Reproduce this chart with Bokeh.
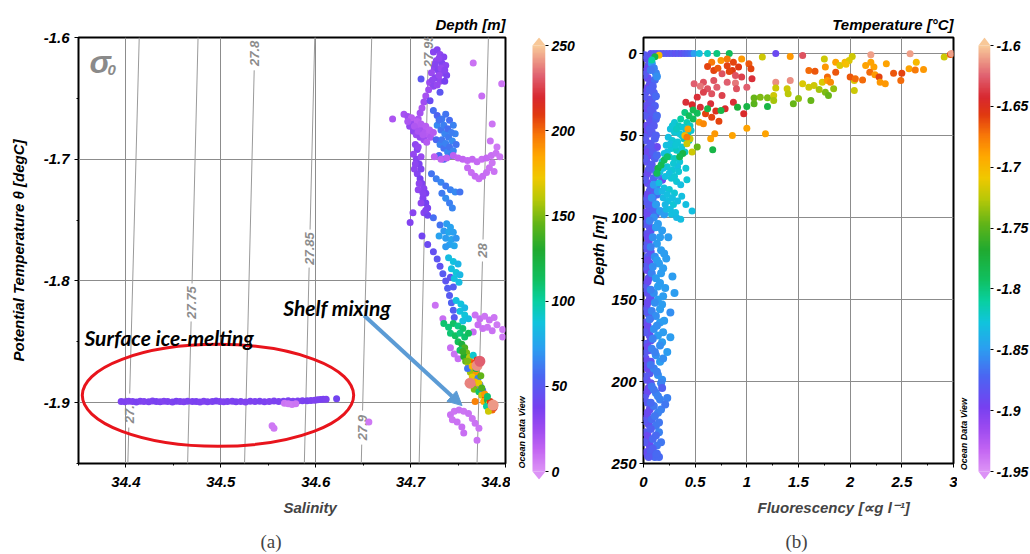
import numpy as np
from bokeh.plotting import figure
from bokeh.layouts import row
from bokeh.models import (Range1d, FixedTicker, LinearColorMapper, Label, Title,
                          Arrow, NormalHead, ColumnDataSource, CustomJSTickFormatter)
from bokeh.transform import transform
from bokeh.core.properties import value
from bokeh.embed import file_html
from bokeh.resources import INLINE

# ======================= DATA =======================
# ---- panel (a): (salinity, potential temperature, depth) ----
surface_pts = [
    (34.395, -1.8990, 36), (34.399, -1.8992, 36), (34.403, -1.8988, 35), (34.407, -1.8991, 36),
    (34.411, -1.8994, 37), (34.415, -1.8989, 36), (34.419, -1.8990, 35), (34.424, -1.8993, 36),
    (34.428, -1.8987, 36), (34.432, -1.8990, 37), (34.436, -1.8992, 36), (34.440, -1.8988, 35),
    (34.444, -1.8991, 36), (34.449, -1.8995, 36), (34.453, -1.8989, 37), (34.457, -1.8990, 36),
    (34.461, -1.8993, 35), (34.465, -1.8988, 36), (34.470, -1.8991, 36), (34.474, -1.8990, 37),
    (34.478, -1.8994, 36), (34.482, -1.8989, 35), (34.486, -1.8992, 36), (34.491, -1.8990, 36),
    (34.495, -1.8987, 37), (34.499, -1.8991, 36), (34.503, -1.8993, 35), (34.507, -1.8990, 36),
    (34.512, -1.8988, 36), (34.516, -1.8992, 37), (34.521, -1.8990, 36), (34.526, -1.8994, 35),
    (34.531, -1.8989, 36), (34.536, -1.8991, 36), (34.541, -1.8988, 37), (34.546, -1.8992, 36),
    (34.551, -1.8990, 35), (34.556, -1.8987, 36), (34.561, -1.8991, 36), (34.566, -1.8989, 37),
    (34.571, -1.8985, 36), (34.576, -1.8988, 35), (34.581, -1.8986, 36), (34.586, -1.8984, 36),
    (34.591, -1.8985, 37), (34.595, -1.8982, 36), (34.599, -1.8980, 35), (34.602, -1.8977, 36),
    (34.605, -1.8975, 36), (34.608, -1.8973, 37), (34.611, -1.8972, 36), (34.622, -1.8968, 40),
]
surface_violet_pts = [
    (34.567, -1.9005, 8), (34.571, -1.9010, 7), (34.575, -1.9015, 7), (34.579, -1.9010, 8),
    (34.554, -1.9190, 7), (34.556, -1.9210, 7), (34.656, -1.9160, 7),
]
shelf_upper_pts = [
    (34.724, -1.612, 32), (34.728, -1.610, 34), (34.731, -1.614, 30), (34.735, -1.616, 33),
    (34.727, -1.619, 29), (34.733, -1.621, 35), (34.737, -1.623, 31), (34.725, -1.625, 30),
    (34.729, -1.627, 34), (34.734, -1.629, 31), (34.738, -1.631, 36), (34.722, -1.629, 26),
    (34.726, -1.633, 32), (34.731, -1.636, 29), (34.736, -1.636, 38), (34.720, -1.637, 25),
    (34.724, -1.640, 31), (34.719, -1.643, 24), (34.716, -1.648, 22), (34.714, -1.653, 24),
    (34.712, -1.658, 20), (34.710, -1.662, 22), (34.708, -1.667, 20),
    (34.730, -1.617, 30), (34.726, -1.622, 33), (34.732, -1.625, 28), (34.736, -1.627, 32),
    (34.730, -1.631, 27), (34.723, -1.635, 30), (34.728, -1.639, 28),
    (34.711, -1.634, 48), (34.766, -1.621, 9), (34.796, -1.638, 8), (34.775, -1.648, 10),
    (34.731, -1.645, 48), (34.7205, -1.652, 42), (34.681, -1.667, 20),
    (34.693, -1.663, 22), (34.697, -1.665, 24), (34.700, -1.668, 18), (34.703, -1.670, 26),
    (34.706, -1.672, 21), (34.709, -1.674, 17), (34.712, -1.676, 22), (34.715, -1.678, 18),
    (34.718, -1.680, 16), (34.721, -1.682, 19), (34.699, -1.673, 28), (34.703, -1.677, 30),
    (34.706, -1.680, 26), (34.710, -1.682, 28), (34.714, -1.684, 24), (34.717, -1.686, 17),
    (34.701, -1.666, 16), (34.707, -1.669, 15), (34.711, -1.671, 17), (34.716, -1.673, 16),
    (34.720, -1.676, 15), (34.724, -1.678, 17), (34.697, -1.669, 20), (34.704, -1.673, 19),
    (34.708, -1.677, 21), (34.713, -1.680, 18),
]
shelf_blue_pts = [
    (34.724, -1.660, 58), (34.728, -1.664, 55), (34.733, -1.667, 62), (34.737, -1.663, 60),
    (34.741, -1.668, 58), (34.745, -1.672, 64), (34.728, -1.672, 66), (34.732, -1.676, 60),
    (34.736, -1.679, 65), (34.740, -1.682, 62), (34.744, -1.685, 67), (34.748, -1.688, 60),
    (34.727, -1.684, 56), (34.731, -1.688, 64), (34.735, -1.691, 59), (34.739, -1.694, 66),
    (34.743, -1.697, 62), (34.747, -1.679, 65), (34.730, -1.697, 57), (34.735, -1.700, 55),
    (34.730, -1.668, 60), (34.735, -1.672, 63), (34.739, -1.675, 58), (34.743, -1.678, 63),
    (34.733, -1.684, 61), (34.737, -1.687, 64), (34.741, -1.690, 60), (34.745, -1.693, 65),
    (34.705, -1.688, 30), (34.707, -1.692, 34), (34.703, -1.696, 28), (34.706, -1.700, 32),
    (34.709, -1.704, 36), (34.704, -1.708, 30), (34.707, -1.712, 33), (34.710, -1.716, 38),
    (34.712, -1.720, 35), (34.714, -1.724, 32), (34.716, -1.728, 37), (34.713, -1.732, 34),
    (34.716, -1.736, 39), (34.718, -1.740, 36), (34.714, -1.744, 32), (34.718, -1.746, 40),
    (34.711, -1.698, 27), (34.708, -1.725, 29), (34.7025, -1.744, 32), (34.6995, -1.752, 34),
    (34.708, -1.690, 28), (34.705, -1.704, 31), (34.711, -1.708, 35), (34.709, -1.720, 30),
    (34.713, -1.728, 33), (34.716, -1.742, 35), (34.711, -1.736, 30),
]
shelf_violet_pts = [
    (34.725, -1.698, 14), (34.732, -1.700, 13), (34.738, -1.699, 14), (34.745, -1.697, 14),
    (34.750, -1.699, 13), (34.755, -1.700, 13), (34.760, -1.701, 12), (34.765, -1.700, 12),
    (34.770, -1.702, 11), (34.775, -1.700, 10), (34.780, -1.699, 11), (34.785, -1.697, 10),
    (34.790, -1.695, 9), (34.794, -1.698, 8), (34.760, -1.707, 11), (34.764, -1.711, 10),
    (34.768, -1.714, 11), (34.772, -1.716, 10), (34.776, -1.714, 11), (34.780, -1.711, 10),
    (34.783, -1.707, 9), (34.786, -1.703, 8), (34.788, -1.710, 9), (34.786, -1.671, 8),
    (34.784, -1.685, 8), (34.791, -1.690, 7),
    (34.726, -1.820, 9), (34.734, -1.831, 10), (34.768, -1.828, 9), (34.773, -1.831, 10),
    (34.778, -1.829, 8), (34.783, -1.832, 9), (34.788, -1.830, 8), (34.771, -1.836, 10),
    (34.776, -1.839, 9), (34.781, -1.838, 8), (34.786, -1.841, 9), (34.791, -1.836, 7),
    (34.797, -1.840, 7), (34.766, -1.842, 10), (34.797, -1.846, 7),
    (34.742, -1.855, 10), (34.746, -1.860, 9), (34.750, -1.864, 10),
    (34.742, -1.910, 9), (34.746, -1.907, 8), (34.751, -1.906, 9), (34.756, -1.907, 8),
    (34.761, -1.909, 9), (34.765, -1.913, 8), (34.768, -1.917, 9), (34.744, -1.914, 8),
    (34.749, -1.916, 9), (34.754, -1.920, 10), (34.772, -1.921, 8), (34.756, -1.925, 10),
    (34.770, -1.931, 9),
]
shelf_mid_pts = [
    (34.722, -1.712, 60), (34.727, -1.716, 63), (34.732, -1.719, 65), (34.737, -1.722, 61),
    (34.742, -1.725, 64), (34.747, -1.727, 66), (34.733, -1.728, 62), (34.737, -1.732, 67),
    (34.741, -1.736, 63), (34.744, -1.740, 65), (34.752, -1.727, 60), (34.724, -1.748, 58),
    (34.731, -1.754, 60),
    (34.738, -1.753, 72), (34.742, -1.756, 74), (34.735, -1.759, 71), (34.740, -1.760, 76),
    (34.745, -1.760, 73), (34.730, -1.763, 74), (34.737, -1.765, 72), (34.743, -1.766, 75),
    (34.748, -1.765, 70), (34.741, -1.770, 74), (34.737, -1.772, 71), (34.746, -1.771, 76),
    (34.712, -1.763, 40), (34.718, -1.770, 42), (34.724, -1.776, 45), (34.728, -1.782, 48),
    (34.731, -1.788, 46), (34.734, -1.794, 50), (34.737, -1.800, 48), (34.739, -1.806, 52),
    (34.741, -1.812, 50), (34.743, -1.818, 54), (34.745, -1.824, 52), (34.746, -1.830, 50),
    (34.742, -1.797, 47), (34.745, -1.805, 51),
    (34.740, -1.781, 84), (34.745, -1.784, 86), (34.750, -1.786, 82), (34.743, -1.790, 85),
    (34.748, -1.793, 88), (34.752, -1.795, 83), (34.746, -1.798, 86), (34.751, -1.801, 84),
    (34.748, -1.816, 85), (34.753, -1.819, 87), (34.757, -1.822, 83), (34.752, -1.825, 86),
    (34.757, -1.828, 88), (34.761, -1.831, 84), (34.755, -1.833, 85),
    (34.735, -1.835, 110), (34.740, -1.838, 108), (34.745, -1.835, 112), (34.750, -1.837, 106),
    (34.755, -1.839, 111), (34.742, -1.843, 109), (34.747, -1.845, 113), (34.752, -1.843, 107),
    (34.757, -1.846, 110), (34.761, -1.843, 114),
]
shelf_deep_pts = [
    (34.750, -1.850, 115), (34.754, -1.852, 125), (34.757, -1.855, 140), (34.752, -1.857, 112),
    (34.759, -1.859, 150), (34.756, -1.862, 130), (34.762, -1.863, 160), (34.758, -1.866, 145),
    (34.764, -1.867, 200), (34.761, -1.870, 165), (34.767, -1.868, 205), (34.766, -1.873, 235),
    (34.763, -1.875, 155), (34.769, -1.876, 190), (34.765, -1.879, 170), (34.771, -1.880, 62),
    (34.768, -1.883, 180), (34.764, -1.884, 195), (34.770, -1.887, 235), (34.773, -1.885, 60),
    (34.767, -1.889, 150), (34.772, -1.891, 110), (34.776, -1.890, 58), (34.775, -1.894, 165),
    (34.779, -1.896, 205), (34.777, -1.899, 185), (34.781, -1.898, 120), (34.783, -1.901, 175),
    (34.780, -1.903, 100), (34.785, -1.903, 235), (34.786, -1.906, 200), (34.782, -1.907, 165),
    (34.788, -1.904, 215), (34.774, -1.878, 145), (34.760, -1.872, 60), (34.766, -1.861, 90),
    (34.770, -1.865, 210), (34.768, -1.899, 195),
    (34.755, -1.858, 135), (34.760, -1.866, 150), (34.765, -1.870, 180), (34.772, -1.884, 170),
    (34.778, -1.893, 190), (34.784, -1.899, 210), (34.787, -1.902, 225), (34.769, -1.872, 120),
    (34.775, -1.888, 140), (34.781, -1.895, 110),
]
shelf_big_pts = [
    (34.770, -1.8695, 240), (34.7626, -1.884, 238), (34.787, -1.902, 242), (34.773, -1.866, 232),
]

# isopycnals sigma-0: label, salinity at theta=-1.95 and at theta=-1.6
sigma_labels = ["27.7", "27.75", "27.8", "27.85", "27.9", "27.95", "28"]
sigma_sal_bottom = [34.402, 34.465, 34.525, 34.588, 34.648, 34.709, 34.770]
sigma_sal_top = [34.414, 34.476, 34.536, 34.599, 34.659, 34.719, 34.782]
sigma_label_theta = [-1.9065, -1.8177, -1.6130, -1.7734, -1.9205, -1.6110, -1.7750]

# ---- panel (b): (fluorescence, depth, temperature) ----
fl_surface_pts = [
    (0.07, 0, -1.885), (0.10, 0, -1.88), (0.13, 0, -1.885), (0.16, 0, -1.88), (0.19, 0, -1.885),
    (0.22, 0, -1.88), (0.25, 0, -1.885), (0.28, 0, -1.88), (0.31, 0, -1.885), (0.34, 0, -1.88),
    (0.37, 0, -1.885), (0.40, 0, -1.88), (0.43, 0, -1.875), (0.46, 0, -1.87), (0.49, 0, -1.85),
    (0.54, 0, -1.83), (0.62, 0, -1.82), (0.71, 0, -1.80), (0.83, 0, -1.79), (1.28, 0, -1.89),
    (0.15, 1, -1.70), (0.11, 2, -1.78), (0.08, 4, -1.81),
    (1.15, 2.2, -1.72), (1.42, 1.8, -1.685), (1.54, 1.2, -1.63), (1.75, 3.3, -1.72),
    (2.02, 1.8, -1.72), (2.20, 0.8, -1.61), (2.58, 0.2, -1.61), (2.91, 2.2, -1.72),
    (2.97, 0.6, -1.665), (2.98, 0, -1.61),
]
fl_warm_pts = [
    (0.66, 5.3, -1.675), (0.62, 7.9, -1.66), (0.68, 10.4, -1.66), (0.75, 4.3, -1.685),
    (0.81, 3.3, -1.675), (0.87, 5.3, -1.66), (0.92, 8.3, -1.655), (0.86, 10.4, -1.655),
    (0.81, 7.5, -1.66), (1.02, 6.3, -1.665), (1.04, 9.3, -1.66), (0.95, 3.3, -1.685),
    (0.76, 12.4, -1.63), (0.89, 13.4, -1.63), (0.95, 14.4, -1.635), (1.05, 15.4, -1.64),
    (0.72, 9.0, -1.665), (0.83, 11.0, -1.66),
    (0.49, 18.5, -1.625), (0.58, 17.5, -1.63), (0.68, 16.5, -1.63), (0.81, 17.5, -1.625),
    (0.89, 18.0, -1.62), (0.62, 21.5, -1.63), (0.71, 20.5, -1.625), (0.58, 23.6, -1.635),
    (0.52, 26.6, -1.64), (0.76, 25.6, -1.635), (1.00, 20.5, -1.625), (0.66, 24.5, -1.63),
    (0.90, 21.5, -1.63), (1.28, 17.5, -1.615), (1.42, 16.5, -1.615), (0.55, 20.0, -1.62),
    (0.41, 29.7, -1.64), (0.47, 31.2, -1.645), (0.55, 32.7, -1.64), (0.65, 30.7, -1.64),
    (0.79, 33.7, -1.645), (0.87, 29.7, -1.64), (0.97, 36.8, -1.645), (0.66, 38.8, -1.66),
    (0.60, 36.8, -1.66), (0.73, 41.3, -1.66), (0.54, 41.9, -1.685), (0.58, 42.9, -1.68),
    (0.70, 35.0, -1.65),
    (0.62, 33.7, -1.78), (0.75, 34.8, -1.78), (0.91, 32.7, -1.775), (1.00, 32.3, -1.78),
    (1.20, 32.3, -1.78), (1.07, 30.7, -1.75), (0.52, 36.5, -1.79), (0.48, 34.5, -1.785),
    (1.07, 27.2, -1.745), (1.13, 26.6, -1.74), (1.20, 27.0, -1.74), (1.26, 25.6, -1.72),
    (1.26, 28.7, -1.73), (1.39, 21.5, -1.72), (1.40, 24.6, -1.725), (1.45, 30.7, -1.745),
    (1.50, 27.5, -1.735), (1.62, 28.7, -1.745), (1.54, 18.5, -1.715), (1.60, 20.5, -1.72),
    (1.65, 19.5, -1.72), (1.73, 17.5, -1.715), (1.76, 23.6, -1.74), (1.79, 25.6, -1.745),
    (2.04, 22.6, -1.72), (2.04, 16.5, -1.715), (1.28, 21.0, -1.72), (1.70, 22.0, -1.73),
    (1.84, 21.5, -1.735),
    (1.60, 10.4, -1.67), (1.66, 10.8, -1.665), (1.76, 8.3, -1.685), (1.78, 14.4, -1.67),
    (1.86, 11.4, -1.665), (1.78, 16.5, -1.685), (1.81, 17.5, -1.68), (1.86, 5.3, -1.69),
    (1.90, 7.3, -1.715), (1.95, 5.3, -1.70), (1.99, 4.3, -1.715), (2.00, 14.4, -1.665),
    (2.05, 15.4, -1.67), (2.12, 16.1, -1.67), (2.15, 7.3, -1.69), (2.23, 8.3, -1.69),
    (2.19, 11.4, -1.67), (2.24, 13.0, -1.685), (2.28, 14.4, -1.66), (2.29, 17.5, -1.685),
    (2.35, 6.3, -1.69), (2.34, 18.5, -1.685), (2.42, 12.0, -1.665), (2.49, 16.5, -1.67),
    (2.50, 12.0, -1.66), (2.57, 9.3, -1.69), (2.63, 10.0, -1.675), (2.64, 5.3, -1.70),
    (2.71, 9.8, -1.685), (2.20, 5.3, -1.69), (1.96, 6.5, -1.705),
    (1.00, 45.5, -1.69), (0.86, 50.0, -1.69), (1.18, 49.0, -1.69), (0.65, 52.0, -1.69),
    (0.69, 49.0, -1.685), (0.42, 51.0, -1.675),
    (0.67, 58.7, -1.78), (0.52, 57.0, -1.745), (0.47, 60.0, -1.72), (0.42, 55.0, -1.72),
    (0.38, 61.0, -1.78), (0.35, 63.0, -1.785),
]
fl_purple_pts = [
    (0.03, 3, -1.885), (0.05, 7, -1.88), (0.02, 11, -1.885), (0.04, 15, -1.89), (0.06, 19, -1.88),
    (0.03, 23, -1.885), (0.05, 28, -1.89), (0.02, 32, -1.885), (0.04, 36, -1.88), (0.06, 40, -1.885),
    (0.03, 44, -1.89), (0.05, 49, -1.885), (0.02, 53, -1.88), (0.04, 58, -1.885), (0.06, 62, -1.89),
    (0.03, 66, -1.885), (0.05, 71, -1.88), (0.02, 75, -1.885), (0.04, 79, -1.89), (0.06, 84, -1.885),
    (0.03, 88, -1.88), (0.05, 93, -1.885), (0.02, 97, -1.89), (0.04, 102, -1.885), (0.06, 106, -1.88),
    (0.03, 110, -1.885), (0.05, 115, -1.89), (0.02, 119, -1.885), (0.04, 124, -1.88), (0.06, 128, -1.885),
    (0.03, 132, -1.89), (0.05, 137, -1.885), (0.02, 141, -1.88), (0.04, 146, -1.885), (0.06, 150, -1.89),
    (0.03, 155, -1.885), (0.05, 159, -1.88), (0.02, 164, -1.885), (0.04, 168, -1.89), (0.06, 172, -1.885),
    (0.03, 177, -1.88), (0.05, 181, -1.885), (0.02, 186, -1.89), (0.04, 190, -1.885), (0.06, 195, -1.88),
    (0.03, 199, -1.885), (0.05, 204, -1.89), (0.02, 208, -1.885), (0.04, 213, -1.88), (0.06, 217, -1.885),
    (0.03, 222, -1.89), (0.05, 226, -1.885), (0.02, 231, -1.88), (0.04, 235, -1.885), (0.06, 239, -1.89),
    (0.03, 243, -1.885),
    (0.01, 1, -1.88), (0.07, 5, -1.885), (0.04, 9, -1.89), (0.01, 13, -1.88), (0.07, 17, -1.885),
    (0.04, 21, -1.89), (0.01, 26, -1.88), (0.07, 30, -1.885), (0.04, 34, -1.89), (0.01, 38, -1.88),
    (0.07, 42, -1.885), (0.04, 47, -1.89), (0.01, 51, -1.88), (0.07, 55, -1.885), (0.04, 60, -1.89),
    (0.01, 64, -1.88), (0.07, 68, -1.885), (0.04, 73, -1.89), (0.01, 77, -1.88), (0.07, 81, -1.885),
    (0.04, 86, -1.89), (0.01, 90, -1.88), (0.07, 95, -1.885), (0.04, 99, -1.89), (0.01, 104, -1.88),
    (0.07, 108, -1.885), (0.04, 112, -1.89), (0.01, 117, -1.88), (0.07, 121, -1.885), (0.04, 126, -1.89),
    (0.01, 130, -1.88), (0.07, 134, -1.885), (0.04, 139, -1.89), (0.01, 143, -1.88), (0.07, 148, -1.885),
    (0.04, 152, -1.89), (0.01, 157, -1.88), (0.07, 161, -1.885), (0.04, 166, -1.89), (0.01, 170, -1.88),
    (0.07, 175, -1.885), (0.04, 179, -1.89), (0.01, 183, -1.88), (0.07, 188, -1.885), (0.04, 192, -1.89),
    (0.01, 197, -1.88), (0.07, 201, -1.885), (0.04, 206, -1.89), (0.01, 210, -1.88), (0.07, 215, -1.885),
    (0.04, 219, -1.89), (0.01, 224, -1.88), (0.07, 228, -1.885), (0.04, 233, -1.89), (0.01, 237, -1.88),
    (0.07, 241, -1.885), (0.04, 245, -1.89),
]
fl_blue_pts = [
    (0.08, 6, -1.85), (0.10, 9, -1.86), (0.12, 12, -1.86), (0.11, 16, -1.87), (0.09, 20, -1.875),
    (0.10, 24, -1.875), (0.08, 28, -1.88), (0.11, 32, -1.875), (0.09, 36, -1.88), (0.12, 40, -1.875),
    (0.10, 44, -1.88), (0.08, 48, -1.88), (0.11, 52, -1.875), (0.13, 57, -1.89), (0.09, 60, -1.88),
    (0.11, 64, -1.875), (0.08, 68, -1.88), (0.12, 72, -1.87), (0.10, 76, -1.875), (0.13, 80, -1.87),
    (0.18, 77, -1.89), (0.11, 84, -1.875), (0.09, 88, -1.88), (0.12, 92, -1.87), (0.10, 96, -1.875),
    (0.07, 10, -1.865), (0.13, 14, -1.855), (0.06, 22, -1.875), (0.12, 26, -1.87), (0.07, 34, -1.88),
    (0.13, 38, -1.87), (0.06, 46, -1.88), (0.12, 50, -1.875), (0.07, 56, -1.88), (0.13, 62, -1.87),
    (0.06, 70, -1.88), (0.14, 74, -1.865), (0.07, 82, -1.88), (0.13, 86, -1.87), (0.06, 92, -1.88),
    (0.12, 98, -1.87),
]
fl_teal_pts = [
    (0.40, 36, -1.80), (0.44, 38, -1.79), (0.48, 40, -1.79), (0.36, 40, -1.81), (0.42, 42, -1.815),
    (0.30, 42, -1.825), (0.34, 44, -1.82), (0.38, 45, -1.825), (0.45, 44, -1.82), (0.26, 46, -1.83),
    (0.30, 48, -1.825), (0.35, 49, -1.825), (0.41, 48, -1.83), (0.46, 47, -1.825), (0.24, 51, -1.83),
    (0.28, 53, -1.825), (0.33, 54, -1.825), (0.39, 52, -1.82), (0.44, 53, -1.82), (0.22, 56, -1.83),
    (0.27, 58, -1.825), (0.32, 59, -1.82), (0.37, 57, -1.825), (0.20, 61, -1.83), (0.25, 63, -1.825),
    (0.30, 64, -1.82), (0.35, 66, -1.825), (0.18, 66, -1.83), (0.23, 69, -1.825), (0.28, 71, -1.825),
    (0.33, 69, -1.83), (0.41, 70, -1.825), (0.16, 72, -1.83), (0.21, 75, -1.83), (0.27, 76, -1.825),
    (0.32, 78, -1.825), (0.42, 77, -1.825), (0.15, 79, -1.83), (0.20, 82, -1.83), (0.25, 83, -1.825),
    (0.30, 85, -1.825), (0.37, 87, -1.83), (0.19, 88, -1.835), (0.24, 90, -1.83), (0.29, 92, -1.825),
    (0.41, 92, -1.83), (0.47, 96, -1.83), (0.22, 95, -1.835), (0.27, 98, -1.83), (0.36, 101, -1.83),
    (0.32, 100, -1.835),
    (0.28, 44, -1.825), (0.32, 46, -1.82), (0.37, 50, -1.825), (0.43, 50, -1.82), (0.26, 55, -1.83),
    (0.31, 56, -1.825), (0.36, 61, -1.825), (0.40, 60, -1.82), (0.23, 60, -1.83), (0.29, 67, -1.825),
    (0.34, 72, -1.825), (0.19, 70, -1.83), (0.25, 73, -1.83), (0.30, 75, -1.825), (0.36, 80, -1.83),
    (0.18, 84, -1.835), (0.23, 86, -1.83), (0.28, 88, -1.83), (0.33, 90, -1.83), (0.21, 92, -1.835),
    (0.26, 95, -1.83), (0.31, 97, -1.83),
    (0.14, 70, -1.78), (0.17, 68, -1.785), (0.20, 65, -1.79), (0.13, 73, -1.79), (0.23, 63, -1.795),
    (0.43, 46, -1.69), (0.45, 52, -1.72), (0.40, 50, -1.70),
]
fl_cyan_pts = [
    (0.10, 80, -1.85), (0.14, 84, -1.85), (0.08, 88, -1.855), (0.12, 92, -1.85), (0.16, 96, -1.85),
    (0.10, 100, -1.855), (0.14, 104, -1.85), (0.18, 108, -1.85), (0.09, 112, -1.855), (0.13, 116, -1.85),
    (0.17, 120, -1.85), (0.11, 124, -1.855), (0.15, 128, -1.85), (0.19, 131, -1.85), (0.08, 134, -1.86),
    (0.12, 137, -1.85), (0.16, 140, -1.85), (0.21, 143, -1.85), (0.10, 146, -1.855), (0.14, 150, -1.85),
    (0.18, 153, -1.85), (0.08, 157, -1.86), (0.12, 160, -1.855), (0.16, 164, -1.85), (0.10, 168, -1.855),
    (0.14, 172, -1.85), (0.18, 176, -1.85), (0.08, 180, -1.86), (0.12, 184, -1.855), (0.16, 188, -1.85),
    (0.10, 192, -1.86), (0.14, 196, -1.855), (0.18, 199, -1.855), (0.08, 203, -1.865), (0.12, 207, -1.86),
    (0.16, 211, -1.86), (0.10, 215, -1.865), (0.14, 219, -1.86), (0.08, 223, -1.87), (0.12, 227, -1.865),
    (0.15, 231, -1.86), (0.09, 235, -1.87), (0.13, 239, -1.865), (0.07, 243, -1.875), (0.11, 246, -1.87),
    (0.15, 246, -1.87),
    (0.06, 102, -1.86), (0.20, 98, -1.85), (0.12, 106, -1.85), (0.16, 112, -1.85), (0.07, 118, -1.86),
    (0.20, 122, -1.85), (0.13, 126, -1.85), (0.09, 130, -1.855), (0.17, 134, -1.85), (0.14, 142, -1.85),
    (0.07, 144, -1.86), (0.19, 148, -1.85), (0.11, 152, -1.855), (0.16, 156, -1.85), (0.06, 162, -1.865),
    (0.13, 166, -1.855), (0.19, 170, -1.85), (0.09, 174, -1.86), (0.16, 178, -1.855), (0.11, 182, -1.86),
    (0.19, 186, -1.855), (0.07, 190, -1.865), (0.13, 194, -1.86), (0.17, 201, -1.86), (0.10, 205, -1.865),
    (0.14, 209, -1.86), (0.07, 213, -1.87), (0.17, 217, -1.86), (0.11, 221, -1.865), (0.15, 225, -1.865),
    (0.07, 229, -1.875), (0.12, 233, -1.87), (0.17, 237, -1.865), (0.09, 241, -1.875), (0.13, 244, -1.87),
    (0.05, 246, -1.88),
    (0.28, 136, -1.85), (0.30, 146, -1.85), (0.26, 158, -1.855), (0.26, 173, -1.85), (0.23, 182, -1.85),
    (0.18, 204, -1.875), (0.23, 210, -1.86), (0.21, 214, -1.865), (0.20, 163, -1.85), (0.22, 125, -1.85),
    (0.24, 112, -1.85),
]

# axis ticks
a_xticks = [34.4, 34.5, 34.6, 34.7, 34.8]
a_xminor = [34.35, 34.45, 34.55, 34.65, 34.75]
a_yticks = [-1.9, -1.8, -1.7, -1.6]
a_yminor = [-1.95, -1.85, -1.75, -1.65]
b_xticks = [0, 0.5, 1, 1.5, 2, 2.5, 3]
b_xminor = [0.25, 0.75, 1.25, 1.75, 2.25, 2.75]
b_yticks = [0, 50, 100, 150, 200, 250]
b_yminor = [25, 75, 125, 175, 225]
depth_cbar_ticks = [0, 50, 100, 150, 200, 250]
temp_cbar_ticks = [-1.95, -1.9, -1.85, -1.8, -1.75, -1.7, -1.65, -1.6]

# ======================= STYLE =======================
FONT = "Liberation Sans"
NOTE_FONT = "Lato"
PAL_ANCHORS = [
    (0.000, "#dc92f6"), (0.050, "#c264f2"), (0.100, "#9c4af0"), (0.150, "#7640f0"),
    (0.220, "#4c64f2"), (0.290, "#2aa0f0"), (0.350, "#10c4dc"), (0.400, "#08d0a0"),
    (0.450, "#10c060"), (0.520, "#20aa30"), (0.580, "#60b418"), (0.640, "#b8c808"),
    (0.690, "#f0c800"), (0.740, "#ffa800"), (0.790, "#f87808"), (0.840, "#e03810"),
    (0.880, "#d82830"), (0.930, "#e06070"), (1.000, "#f8c898"),
]


def build_palette(anchors, n=256):
    pos = np.array([a[0] for a in anchors])
    rgb = np.array([[int(h[1:3], 16), int(h[3:5], 16), int(h[5:7], 16)] for _, h in anchors], float)
    t = np.linspace(0, 1, n)
    out = []
    for ti in t:
        r, g, b = (np.interp(ti, pos, rgb[:, k]) for k in range(3))
        out.append("#%02x%02x%02x" % (int(round(r)), int(round(g)), int(round(b))))
    return out


PAL = build_palette(PAL_ANCHORS)
FMT = "return (Math.round(tick*1000)/1000).toString();"

depth_mapper = LinearColorMapper(palette=PAL, low=0, high=250)
temp_mapper = LinearColorMapper(palette=PAL, low=-1.95, high=-1.6)


def style_axes(p):
    p.outline_line_color = "black"
    p.outline_line_width = 2
    p.background_fill_color = "white"
    p.border_fill_color = "white"
    for ax in list(p.xaxis) + list(p.yaxis):
        ax.axis_line_color = None
        ax.major_tick_in = 0
        ax.major_tick_out = 4
        ax.minor_tick_in = 0
        ax.minor_tick_out = 2
        ax.major_tick_line_color = "black"
        ax.minor_tick_line_color = "black"
        ax.major_label_text_font = FONT
        ax.major_label_text_font_size = "15px"
        ax.major_label_text_font_style = "bold italic"
        ax.major_label_text_color = "black"
        ax.axis_label_text_font = FONT
        ax.axis_label_text_font_size = "15px"
        ax.axis_label_text_font_style = "bold italic"
        ax.axis_label_text_color = "black"
        ax.formatter = CustomJSTickFormatter(code=FMT)
    p.grid.grid_line_color = "#8c8c8c"
    p.grid.grid_line_width = 1
    p.title.align = "right"
    p.title.text_font = FONT
    p.title.text_font_size = "15px"
    p.title.text_font_style = "bold italic"
    p.title.text_color = "black"
    p.title.standoff = 9


def cols(pts):
    return dict(x=[q[0] for q in pts], y=[q[1] for q in pts], c=[q[2] for q in pts])


# ======================= PANEL (a) =======================
pA = figure(frame_width=427, frame_height=426, min_border_left=78, min_border_right=5,
            min_border_top=37, min_border_bottom=90,
            x_range=Range1d(34.35, 34.8), y_range=Range1d(-1.95, -1.6),
            output_backend="svg", toolbar_location=None, title="Depth [m]")
style_axes(pA)
pA.xaxis.ticker = FixedTicker(ticks=a_xticks, minor_ticks=a_xminor)
pA.yaxis.ticker = FixedTicker(ticks=a_yticks, minor_ticks=a_yminor)
pA.xgrid.ticker = FixedTicker(ticks=a_xticks)
pA.ygrid.ticker = FixedTicker(ticks=a_yticks)
pA.xaxis.major_label_standoff = 9
pA.yaxis.major_label_standoff = 5
pA.yaxis.axis_label = "Potential Temperature θ [degC]"
pA.yaxis.axis_label_standoff = 14

# isopycnals (broken around their labels)
T_BOT, T_TOP = -1.95, -1.6
gap_px = {4: 17, 5: 19, 2: 11}
seg_x0, seg_y0, seg_x1, seg_y1, lab_x = [], [], [], [], []
for lab, sb, st, tl in zip(sigma_labels, sigma_sal_bottom, sigma_sal_top, sigma_label_theta):
    half = gap_px.get(len(lab), 18) * (T_TOP - T_BOT) / 426.0
    s_at = lambda T: sb + (st - sb) * (T - T_BOT) / (T_TOP - T_BOT)
    lo = max(tl - half, T_BOT)
    seg_x0.append(sb); seg_y0.append(T_BOT); seg_x1.append(s_at(lo)); seg_y1.append(lo)
    hi = tl + half
    if hi < T_TOP:
        seg_x0.append(s_at(hi)); seg_y0.append(hi); seg_x1.append(st); seg_y1.append(T_TOP)
    lab_x.append(s_at(tl))
pA.segment(x0=seg_x0, y0=seg_y0, x1=seg_x1, y1=seg_y1, line_color="#9a9a9a", line_width=1)
pA.text(x=lab_x, y=sigma_label_theta, text=sigma_labels, angle=np.pi / 2,
        text_align="center", text_baseline="middle", text_color="#8c8c8c",
        text_font=value(FONT), text_font_size="13px", text_font_style="bold italic")

# sigma-0 symbol
pA.add_layout(Label(x=34.3616, y=-1.6205, text="σ", text_font=FONT, text_font_size="32px",
                    text_font_style="bold italic", text_color="#8a8a8a", text_baseline="middle"))
pA.add_layout(Label(x=34.3805, y=-1.6265, text="0", text_font=FONT, text_font_size="15px",
                    text_font_style="bold italic", text_color="#8a8a8a", text_baseline="middle"))

for pts, size in [(surface_pts, 7), (surface_violet_pts, 7), (shelf_upper_pts, 7),
                  (shelf_blue_pts, 7), (shelf_violet_pts, 7), (shelf_mid_pts, 7),
                  (shelf_deep_pts, 7), (shelf_big_pts, 11)]:
    src = ColumnDataSource(cols(pts))
    pA.scatter(x="x", y="y", source=src, size=size, line_color=None,
               fill_color=transform("c", depth_mapper))

# annotations
pA.ellipse(x=[34.497], y=[-1.894], width=[0.286], height=[0.0838],
           fill_color=None, line_color="#e8141c", line_width=3)
pA.add_layout(Arrow(end=NormalHead(size=14, fill_color="#5b9bd5", line_color="#5b9bd5"),
                    x_start=34.651, y_start=-1.8284, x_end=34.7542, y_end=-1.9024,
                    line_color="#5b9bd5", line_width=4))
pA.add_layout(Label(x=34.3563, y=-1.8465, text="Surface ice-melting", text_font=NOTE_FONT,
                    text_font_size="21px", text_font_style="bold italic", text_color="black",
                    text_baseline="alphabetic"))
pA.add_layout(Label(x=34.5658, y=-1.8219, text="Shelf mixing", text_font=NOTE_FONT,
                    text_font_size="21px", text_font_style="bold italic", text_color="black",
                    text_baseline="alphabetic"))

pA.add_layout(Title(text="Salinity", align="left", offset=205, text_font=FONT,
                    text_font_size="15px", text_font_style="bold italic", standoff=14), "below")
pA.add_layout(Title(text="(a)", align="left", offset=182, text_font="Liberation Serif",
                    text_font_size="19px", text_font_style="normal", standoff=13), "below")

# ======================= PANEL (b) =======================
pB = figure(frame_width=310, frame_height=426, min_border_left=58, min_border_right=4,
            min_border_top=37, min_border_bottom=90,
            x_range=Range1d(0, 3), y_range=Range1d(250, -9.76),
            output_backend="svg", toolbar_location=None, title="Temperature [°C]")
style_axes(pB)
pB.xaxis.ticker = FixedTicker(ticks=b_xticks, minor_ticks=b_xminor)
pB.yaxis.ticker = FixedTicker(ticks=b_yticks, minor_ticks=b_yminor)
pB.xgrid.ticker = FixedTicker(ticks=b_xticks)
pB.ygrid.ticker = FixedTicker(ticks=b_yticks)
pB.xaxis.major_label_standoff = 9
pB.yaxis.major_label_standoff = 3
pB.yaxis.axis_label = "Depth [m]"
pB.yaxis.axis_label_standoff = 1

for pts, size in [(fl_purple_pts, 8), (fl_blue_pts, 8), (fl_cyan_pts, 8), (fl_teal_pts, 7),
                  (fl_surface_pts, 7), (fl_warm_pts, 7)]:
    src = ColumnDataSource(cols(pts))
    pB.scatter(x="x", y="y", source=src, size=size, line_color=None,
               fill_color=transform("c", temp_mapper))

pB.add_layout(Title(text="Fluorescency [∝g l⁻¹]", align="left", offset=114, text_font=FONT,
                    text_font_size="15px", text_font_style="bold italic", standoff=14), "below")
pB.add_layout(Title(text="(b)", align="left", offset=142, text_font="Liberation Serif",
                    text_font_size="19px", text_font_style="normal", standoff=13), "below")


# ======================= COLOUR BARS =======================
def make_cbar(low, high, ticks, left_border, frame_w, bar_w, right_border, odv_px, odv_y):
    ext = (high - low) * 8 / 426.0
    xl = 1 - frame_w / bar_w
    p = figure(frame_width=frame_w, frame_height=442, min_border_left=left_border,
               min_border_right=right_border, min_border_top=29, min_border_bottom=82,
               x_range=Range1d(xl, 1), y_range=Range1d(low - ext, high + ext),
               x_axis_location=None, y_axis_location="right",
               output_backend="svg", toolbar_location=None)
    p.grid.visible = False
    p.outline_line_color = None
    p.background_fill_color = "white"
    p.border_fill_color = "white"
    grad = np.linspace(0, 1, 256).reshape(256, 1)
    p.image(image=[grad], x=0, y=low, dw=1, dh=high - low,
            color_mapper=LinearColorMapper(palette=PAL, low=0, high=1))
    p.patch(x=[0, 0.5, 1], y=[high, high + ext, high], fill_color=PAL[-1], line_color=None)
    p.patch(x=[0, 0.5, 1], y=[low, low - ext, low], fill_color=PAL[0], line_color=None)
    ax = p.yaxis[0]
    ax.ticker = FixedTicker(ticks=ticks)
    ax.formatter = CustomJSTickFormatter(code=FMT)
    ax.axis_line_color = None
    ax.major_tick_in = 0
    ax.major_tick_out = 3
    ax.minor_tick_line_color = None
    ax.major_label_standoff = 3
    ax.major_label_text_font = FONT
    ax.major_label_text_font_size = "14px"
    ax.major_label_text_font_style = "bold italic"
    ax.major_label_text_color = "black"
    p.text(x=[xl + odv_px / bar_w], y=[odv_y], text=["Ocean Data View"],
           angle=np.pi / 2, text_align="left", text_baseline="middle", text_color="black",
           text_font=value(FONT), text_font_size="9px", text_font_style="bold italic")
    return p


cbA = make_cbar(0, 250, depth_cbar_ticks, 4, 31, 13, 40, 7, 1.8)
cbB = make_cbar(-1.95, -1.6, temp_cbar_ticks, 0, 33, 12, 38, 6.5, -1.949)

layout = row(pA, cbA, pB, cbB)
open("out.html", "w").write(file_html(layout, INLINE))
